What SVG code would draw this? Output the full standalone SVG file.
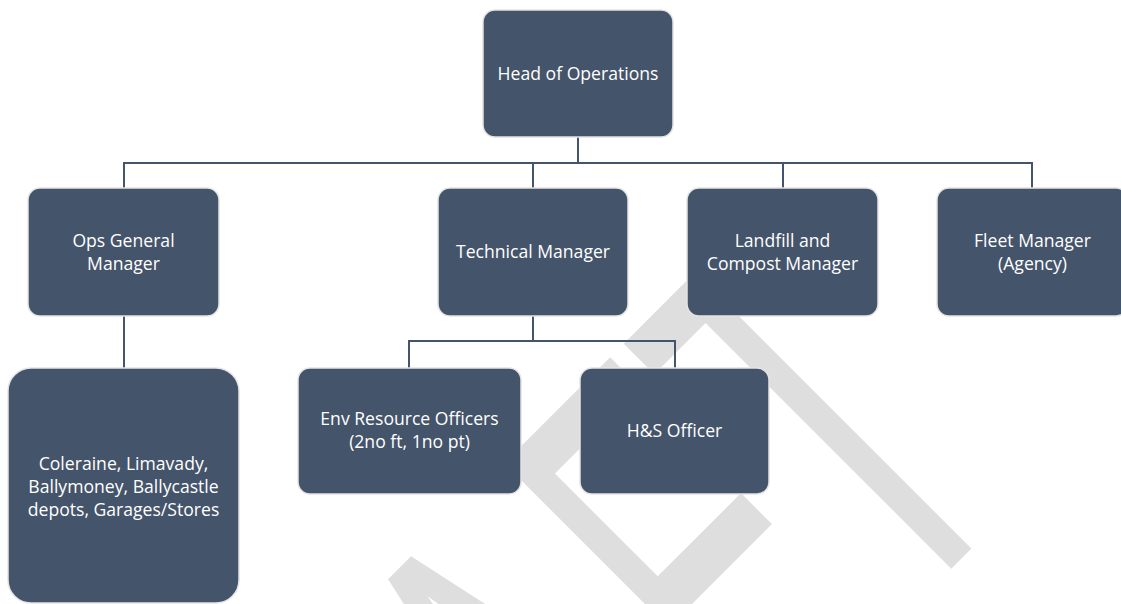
<svg xmlns="http://www.w3.org/2000/svg" width="1121" height="604" viewBox="0 0 1121 604">
  <style>
    .box { fill: #44546A; stroke: #E4E4E4; stroke-width: 1.5; }
    .lbl { fill: #FFFFFF; font-family: "Open Sans", "Liberation Sans", sans-serif; font-size: 17.6px; text-anchor: middle; }
    .conn { fill: none; stroke: #44546A; stroke-width: 2; }
    .wm { fill: #DEDEDE; font-family: "Liberation Sans", Arial, sans-serif; font-size: 568px; }
  </style>
  <rect width="1121" height="604" fill="#FFFFFF"/>

  <!-- background watermark, condensed and turned 45 degrees -->
  <g id="watermark">
    <text class="wm" x="-1192 -782 -411 7 354" y="0" transform="translate(760 760) rotate(-45) scale(0.54 1)">DRAFT</text>
  </g>

  <!-- reporting lines -->
  <g id="connectors">
    <path class="conn" d="M578 137 V163"/>
    <path class="conn" d="M124 188 V163 H1032 V188"/>
    <path class="conn" d="M533 163 V188"/>
    <path class="conn" d="M783 163 V188"/>
    <path class="conn" d="M124 316 V368"/>
    <path class="conn" d="M533 316 V341"/>
    <path class="conn" d="M409 368 V341 H675 V368"/>
  </g>

  <g id="head-of-operations">
    <rect class="box" x="483" y="10" width="190" height="127" rx="12"/>
    <text class="lbl" x="578" y="79.5">Head of Operations</text>
  </g>

  <g id="ops-general-manager">
    <rect class="box" x="28" y="188" width="191" height="128" rx="12"/>
    <text class="lbl" x="123.5" y="246.5">Ops General<tspan x="123.5" dy="23">Manager</tspan></text>
  </g>

  <g id="technical-manager">
    <rect class="box" x="438" y="188" width="190" height="128" rx="12"/>
    <text class="lbl" x="533" y="258">Technical Manager</text>
  </g>

  <g id="landfill-compost-manager">
    <rect class="box" x="687" y="188" width="191" height="128" rx="12"/>
    <text class="lbl" x="782.5" y="246.5">Landfill and<tspan x="782.5" dy="23">Compost Manager</tspan></text>
  </g>

  <g id="fleet-manager">
    <rect class="box" x="937" y="188" width="191" height="128" rx="12"/>
    <text class="lbl" x="1032.5" y="246.5">Fleet Manager<tspan x="1032.5" dy="23">(Agency)</tspan></text>
  </g>

  <g id="depots">
    <rect class="box" x="8" y="368" width="231" height="235" rx="23"/>
    <text class="lbl" x="123.5" y="469.5">Coleraine, Limavady,<tspan x="123.5" dy="23">Ballymoney, Ballycastle</tspan><tspan x="123.5" dy="23">depots, Garages/Stores</tspan></text>
  </g>

  <g id="env-resource-officers">
    <rect class="box" x="298" y="368" width="223" height="126" rx="12"/>
    <text class="lbl" x="409.5" y="425">Env Resource Officers<tspan x="409.5" dy="23">(2no ft, 1no pt)</tspan></text>
  </g>

  <g id="hs-officer">
    <rect class="box" x="580" y="368" width="189" height="126" rx="12"/>
    <text class="lbl" x="674.5" y="437">H&amp;S Officer</text>
  </g>
</svg>
